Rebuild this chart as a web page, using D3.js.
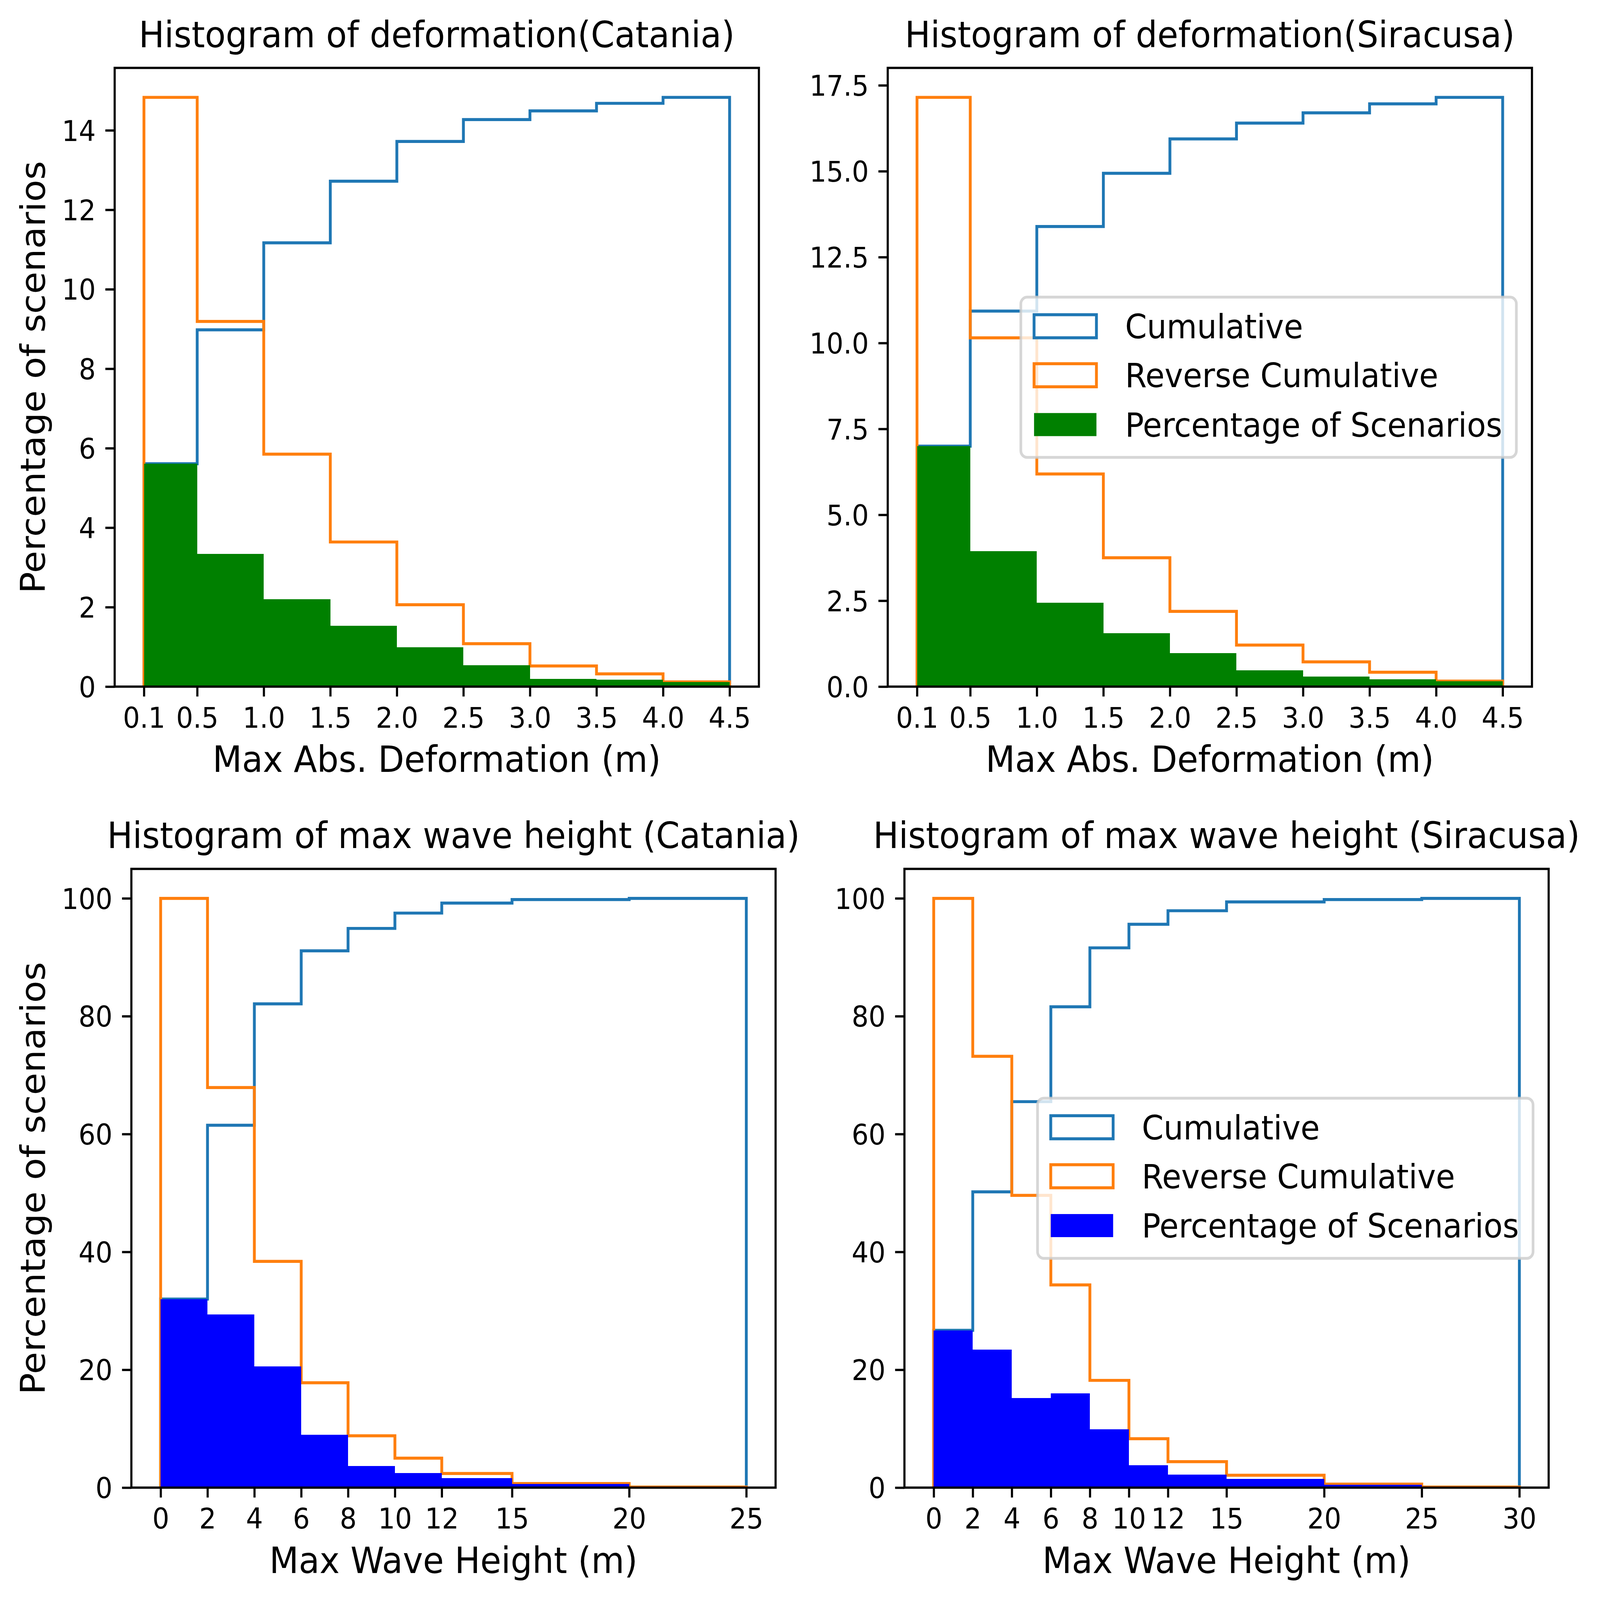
<!DOCTYPE html>
<html>
<head>
<meta charset="utf-8">
<script src="https://cdn.jsdelivr.net/npm/d3@7"></script>
<style>
  html, body { margin: 0; padding: 0; background: #fff; overflow: hidden; }
  #chart svg { position: absolute; left: 0; top: 0; display: block; width: 100vw; height: 100vh; }
</style>
</head>
<body>
<div id="chart"></div>
<script>
// bin edges
var defEdges = [0.1, 0.5, 1.0, 1.5, 2.0, 2.5, 3.0, 3.5, 4.0, 4.5];
var waveEdgesCatania = [0, 2, 4, 6, 8, 10, 12, 15, 20, 25];
var waveEdgesSiracusa = [0, 2, 4, 6, 8, 10, 12, 15, 20, 25, 30];

// deformation, Catania (% of scenarios)
var defCataniaPct = [5.61, 3.34, 2.2, 1.53, 0.99, 0.54, 0.19, 0.17, 0.12];
var defCataniaCum = [5.61, 8.98, 11.17, 12.72, 13.72, 14.27, 14.49, 14.68, 14.83];
var defCataniaRev = [14.83, 9.19, 5.85, 3.64, 2.06, 1.08, 0.52, 0.32, 0.12];

// deformation, Siracusa
var defSiracusaPct = [7.0, 3.94, 2.44, 1.55, 0.98, 0.47, 0.29, 0.21, 0.16];
var defSiracusaCum = [7.0, 10.93, 13.39, 14.94, 15.94, 16.4, 16.7, 16.96, 17.15];
var defSiracusaRev = [17.15, 10.15, 6.19, 3.75, 2.19, 1.21, 0.72, 0.42, 0.16];

// max wave height, Catania
var waveCataniaPct = [32.0, 29.4, 20.6, 9.0, 3.7, 2.5, 1.6, 0.6, 0.1];
var waveCataniaCum = [32.0, 61.5, 82.1, 91.1, 94.9, 97.5, 99.2, 99.8, 100];
var waveCataniaRev = [100, 67.9, 38.4, 17.8, 8.8, 5.0, 2.4, 0.7, 0.1];

// max wave height, Siracusa
var waveSiracusaPct = [26.7, 23.4, 15.2, 16.0, 9.9, 3.8, 2.2, 1.5, 0.5, 0.1];
var waveSiracusaCum = [26.7, 50.2, 65.5, 81.6, 91.6, 95.6, 97.9, 99.4, 99.8, 100];
var waveSiracusaRev = [100, 73.2, 49.6, 34.4, 18.2, 8.3, 4.4, 2.1, 0.6, 0.1];

// tick labels
var defXTicks = [0.1, 0.5, 1.0, 1.5, 2.0, 2.5, 3.0, 3.5, 4.0, 4.5];
var waveXTicksCatania = [0, 2, 4, 6, 8, 10, 12, 15, 20, 25];
var waveXTicksSiracusa = [0, 2, 4, 6, 8, 10, 12, 15, 20, 25, 30];
var defCataniaYTicks = [0, 2, 4, 6, 8, 10, 12, 14];
var defSiracusaYTicks = [0, 2.5, 5, 7.5, 10, 12.5, 15, 17.5];
var waveYTicks = [0, 20, 40, 60, 80, 100];

var legendLabels = ['Cumulative', 'Reverse Cumulative', 'Percentage of Scenarios'];

var W = 5079, H = 4784;
var FONT = 'DejaVu Sans, sans-serif';
var axW = 2045, axH = 1850;
var tickFs = 84.6, labelFs = 108, legendFs = 99;
var C0 = '#1f77b4', C1 = '#ff7f0e';

var panels = [
	{ left: 364, top: 203, edges: defEdges, pct: defCataniaPct, cum: defCataniaCum, rev: defCataniaRev,
	  barColor: 'green', xTicks: defXTicks, xFmt: d3.format('.1f'), yTicks: defCataniaYTicks, yFmt: d3.format('d'),
	  title: 'Histogram of deformation(Catania)', xLabel: 'Max Abs. Deformation (m)', yLabel: true, legend: false },
	{ left: 2818, top: 203, edges: defEdges, pct: defSiracusaPct, cum: defSiracusaCum, rev: defSiracusaRev,
	  barColor: 'green', xTicks: defXTicks, xFmt: d3.format('.1f'), yTicks: defSiracusaYTicks, yFmt: d3.format('.1f'),
	  title: 'Histogram of deformation(Siracusa)', xLabel: 'Max Abs. Deformation (m)', yLabel: false, legend: true },
	{ left: 417, top: 2598, edges: waveEdgesCatania, pct: waveCataniaPct, cum: waveCataniaCum, rev: waveCataniaRev,
	  barColor: 'blue', xTicks: waveXTicksCatania, xFmt: d3.format('d'), yTicks: waveYTicks, yFmt: d3.format('d'),
	  title: 'Histogram of max wave height (Catania)', xLabel: 'Max Wave Height (m)', yLabel: true, legend: false },
	{ left: 2871, top: 2598, edges: waveEdgesSiracusa, pct: waveSiracusaPct, cum: waveSiracusaCum, rev: waveSiracusaRev,
	  barColor: 'blue', xTicks: waveXTicksSiracusa, xFmt: d3.format('d'), yTicks: waveYTicks, yFmt: d3.format('d'),
	  title: 'Histogram of max wave height (Siracusa)', xLabel: 'Max Wave Height (m)', yLabel: false, legend: true }
];

// fill the whole window whatever its aspect
var svg = d3.select('#chart').append('svg')
	.attr('viewBox', '0 0 ' + W + ' ' + H)
	.attr('preserveAspectRatio', 'none')
	.style('background', '#fff');

function stepPoints(edges, vals) {
	var pts = [[edges[0], 0]];
	vals.forEach(function(v, i) {
		pts.push([edges[i], v]);
		pts.push([edges[i + 1], v]);
	});
	pts.push([edges[edges.length - 1], 0]);
	return pts;
}

panels.forEach(function(p) {
	var lo = p.edges[0], hi = p.edges[p.edges.length - 1];
	var xm = (hi - lo) * 0.05;
	var yMax = d3.max([d3.max(p.pct), d3.max(p.cum), d3.max(p.rev)]) * 1.05;

	var x = d3.scaleLinear().domain([lo - xm, hi + xm]).range([0, axW]);
	var y = d3.scaleLinear().domain([0, yMax]).range([axH, 0]);

	var g = svg.append('g').attr('transform', 'translate(' + p.left + ',' + p.top + ')');

	var line = d3.line()
		.x(function(d) { return x(d[0]); })
		.y(function(d) { return y(d[1]); });

	// cumulative then reverse cumulative, then bars on top
	g.append('path')
		.attr('d', line(stepPoints(p.edges, p.cum)))
		.attr('fill', 'none').attr('stroke', C0).attr('stroke-width', 9)
		.attr('stroke-linejoin', 'miter');
	g.append('path')
		.attr('d', line(stepPoints(p.edges, p.rev)))
		.attr('fill', 'none').attr('stroke', C1).attr('stroke-width', 9)
		.attr('stroke-linejoin', 'miter');

	g.selectAll('rect.bar')
		.data(p.pct)
		.enter().append('rect')
		.attr('class', 'bar')
		.attr('x', function(d, i) { return x(p.edges[i]); })
		.attr('width', function(d, i) { return x(p.edges[i + 1]) - x(p.edges[i]); })
		.attr('y', function(d) { return y(d); })
		.attr('height', function(d) { return y(0) - y(d); })
		.attr('fill', p.barColor)
		.attr('shape-rendering', 'crispEdges');

	// axes
	var xAxis = g.append('g')
		.attr('transform', 'translate(0,' + axH + ')')
		.call(d3.axisBottom(x).tickValues(p.xTicks).tickFormat(p.xFmt).tickSize(29.6));
	var yAxis = g.append('g')
		.call(d3.axisLeft(y).tickValues(p.yTicks).tickFormat(p.yFmt).tickSize(29.6));

	[xAxis, yAxis].forEach(function(a) {
		a.select('.domain').remove();
		a.attr('font-family', FONT).attr('font-size', tickFs);
		a.selectAll('.tick line').attr('stroke', '#000').attr('stroke-width', 6.8);
		a.selectAll('.tick text').attr('fill', '#000');
	});
	xAxis.selectAll('.tick text').attr('y', 61).attr('dy', '0.729em');
	yAxis.selectAll('.tick text').attr('x', -60).attr('dy', '0.3645em');

	// frame
	g.append('rect')
		.attr('x', 0).attr('y', 0).attr('width', axW).attr('height', axH)
		.attr('fill', 'none').attr('stroke', '#000').attr('stroke-width', 6.8);

	// texts
	g.append('text')
		.attr('x', axW / 2).attr('y', -62)
		.attr('text-anchor', 'middle')
		.attr('font-family', FONT).attr('font-size', labelFs)
		.text(p.title);
	g.append('text')
		.attr('x', axW / 2).attr('y', axH + 255)
		.attr('text-anchor', 'middle')
		.attr('font-family', FONT).attr('font-size', labelFs)
		.text(p.xLabel);
	if (p.yLabel) {
		g.append('text')
			.attr('transform', 'translate(' + (143 - p.left) + ',' + (axH / 2) + ') rotate(-90)')
			.attr('text-anchor', 'middle')
			.attr('font-family', FONT).attr('font-size', labelFs)
			.text('Percentage of scenarios');
	}

	if (p.legend) {
		var lw = 1573, lh = 479;
		var lg = g.append('g')
			.attr('transform', 'translate(' + (axW - 49.5 - lw) + ',' + (axH / 2 - lh / 2) + ')');
		lg.append('rect')
			.attr('width', lw).attr('height', lh).attr('rx', 20).attr('ry', 20)
			.attr('fill', '#fff').attr('fill-opacity', 0.8)
			.attr('stroke', '#cccccc').attr('stroke-opacity', 0.8).attr('stroke-width', 8.5);
		var rowY = [87, 233.5, 381];
		legendLabels.forEach(function(lab, i) {
			var hy = rowY[i] - 34.5;
			var r = lg.append('rect')
				.attr('x', 42).attr('y', hy).attr('width', 198).attr('height', 69);
			if (i === 2) {
				r.attr('fill', p.barColor);
			} else {
				r.attr('fill', 'none').attr('stroke', i === 0 ? C0 : C1).attr('stroke-width', 9);
			}
			lg.append('text')
				.attr('x', 331).attr('y', rowY[i] + 36)
				.attr('font-family', FONT).attr('font-size', legendFs)
				.text(lab);
		});
	}
});
</script>
</body>
</html>
